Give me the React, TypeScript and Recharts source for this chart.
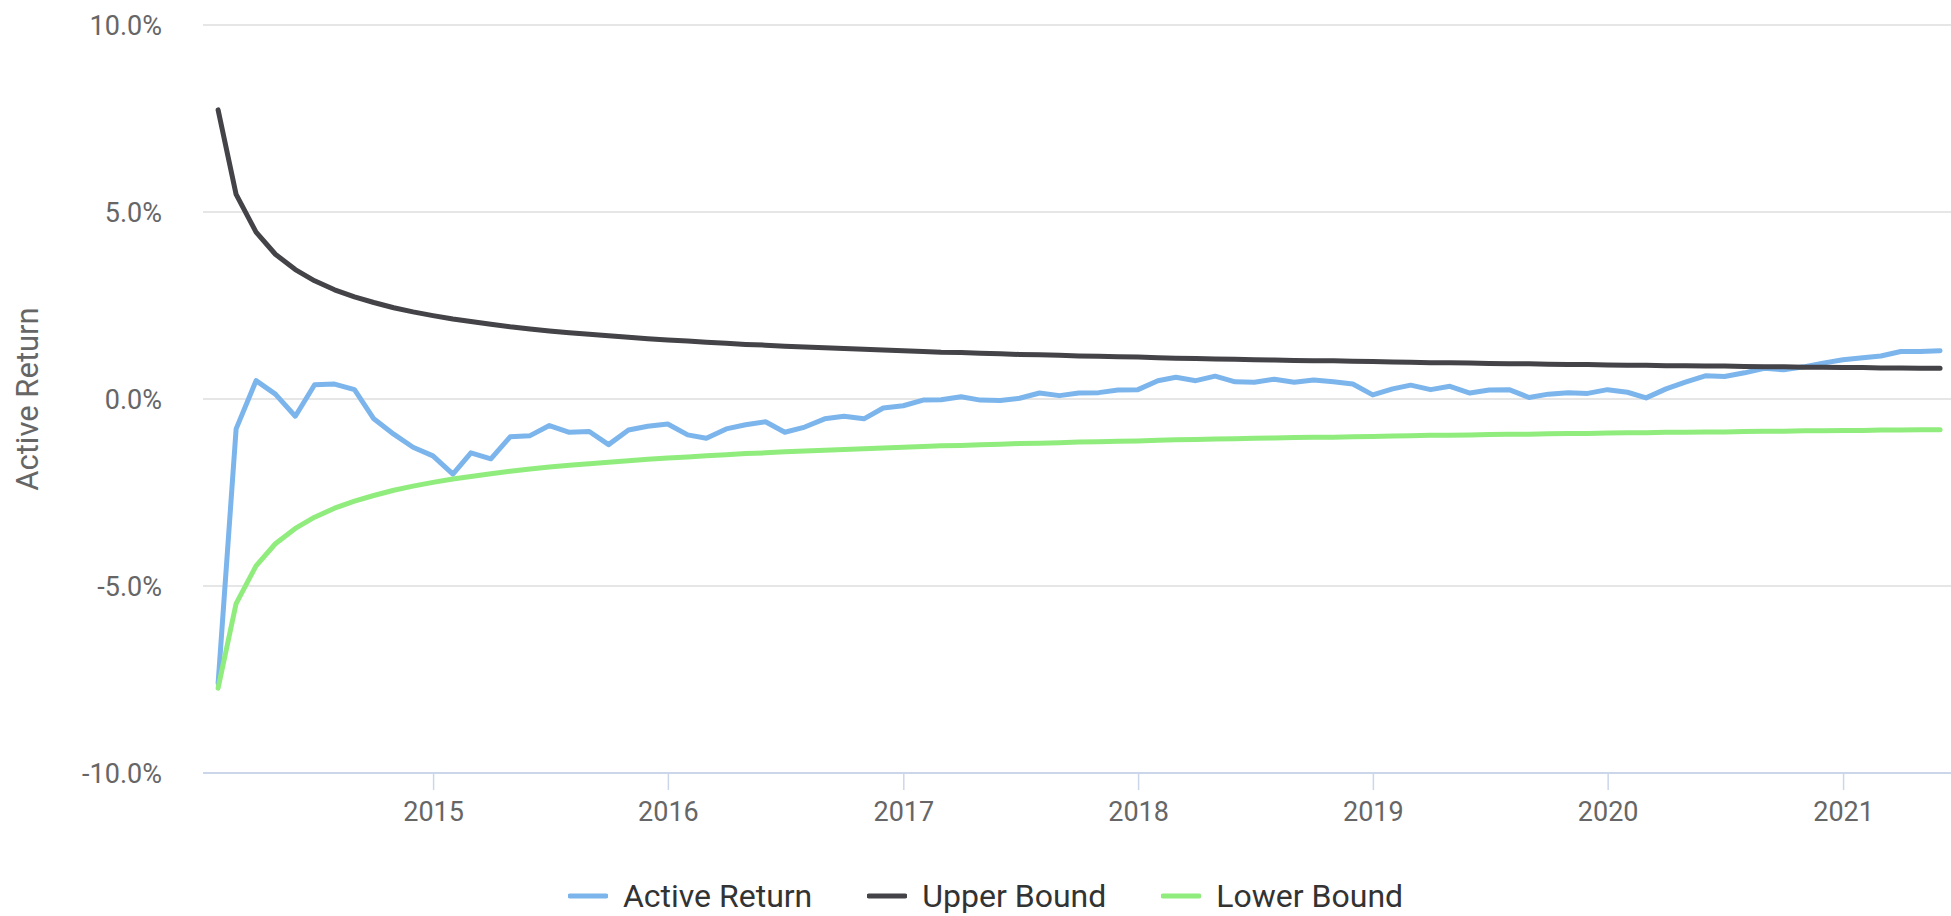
import React from "react";
import { LineChart, Line, XAxis, YAxis, CartesianGrid, Legend } from "recharts";

// Month-end observations, Jan 2014 .. May 2021
const startYear = 2014;
const monthCount = 89;

const activeReturn = [
  -7.6, -0.8, 0.49, 0.13, -0.46, 0.38, 0.4, 0.25, -0.53, -0.94,
  -1.29, -1.52, -2.01, -1.44, -1.6, -1.01, -0.98, -0.71, -0.89, -0.87,
  -1.22, -0.83, -0.73, -0.67, -0.96, -1.05, -0.8, -0.69, -0.61, -0.89,
  -0.75, -0.53, -0.46, -0.53, -0.24, -0.18, -0.03, -0.02, 0.06, -0.03,
  -0.04, 0.02, 0.16, 0.09, 0.16, 0.17, 0.24, 0.25, 0.49, 0.58,
  0.49, 0.61, 0.46, 0.45, 0.53, 0.45, 0.51, 0.46, 0.4, 0.11,
  0.27, 0.37, 0.25, 0.34, 0.16, 0.24, 0.25, 0.04, 0.13, 0.17,
  0.15, 0.25, 0.18, 0.03, 0.27, 0.45, 0.62, 0.6, 0.7, 0.82,
  0.78, 0.86, 0.96, 1.05, 1.1, 1.15, 1.27, 1.27, 1.29,
];

const upperBound = [
  7.73, 5.47, 4.46, 3.87, 3.46, 3.16, 2.92, 2.73, 2.58, 2.44,
  2.33, 2.23, 2.14, 2.07, 2.0, 1.93, 1.87, 1.82, 1.77, 1.73,
  1.69, 1.65, 1.61, 1.58, 1.55, 1.52, 1.49, 1.46, 1.44, 1.41,
  1.39, 1.37, 1.35, 1.33, 1.31, 1.29, 1.27, 1.25, 1.24, 1.22,
  1.21, 1.19, 1.18, 1.17, 1.15, 1.14, 1.13, 1.12, 1.1, 1.09,
  1.08, 1.07, 1.06, 1.05, 1.04, 1.03, 1.02, 1.02, 1.01, 1.0,
  0.99, 0.98, 0.97, 0.97, 0.96, 0.95, 0.94, 0.94, 0.93, 0.92,
  0.92, 0.91, 0.9, 0.9, 0.89, 0.89, 0.88, 0.88, 0.87, 0.86,
  0.86, 0.85, 0.85, 0.84, 0.84, 0.83, 0.83, 0.82, 0.82,
];

const lowerBound = [
  -7.73, -5.47, -4.46, -3.87, -3.46, -3.16, -2.92, -2.73, -2.58, -2.44,
  -2.33, -2.23, -2.14, -2.07, -2.0, -1.93, -1.87, -1.82, -1.77, -1.73,
  -1.69, -1.65, -1.61, -1.58, -1.55, -1.52, -1.49, -1.46, -1.44, -1.41,
  -1.39, -1.37, -1.35, -1.33, -1.31, -1.29, -1.27, -1.25, -1.24, -1.22,
  -1.21, -1.19, -1.18, -1.17, -1.15, -1.14, -1.13, -1.12, -1.1, -1.09,
  -1.08, -1.07, -1.06, -1.05, -1.04, -1.03, -1.02, -1.02, -1.01, -1.0,
  -0.99, -0.98, -0.97, -0.97, -0.96, -0.95, -0.94, -0.94, -0.93, -0.92,
  -0.92, -0.91, -0.9, -0.9, -0.89, -0.89, -0.88, -0.88, -0.87, -0.86,
  -0.86, -0.85, -0.85, -0.84, -0.84, -0.83, -0.83, -0.82, -0.82,
];

const seriesNames = ["Active Return", "Upper Bound", "Lower Bound"];
const yTicks = [-10, -5, 0, 5, 10];
const yearTicks = [2015, 2016, 2017, 2018, 2019, 2020, 2021];

const monthEnds: number[] = [];
for (let i = 0; i < monthCount; i++) monthEnds.push(Date.UTC(startYear, i + 1, 0));

const data = monthEnds.map((t, i) => ({
  t,
  active: activeReturn[i],
  upper: upperBound[i],
  lower: lowerBound[i],
}));

const xTicks = yearTicks.map((y) => Date.UTC(y, 0, 1));
const xDomain = [Date.UTC(2014, 0, 7, 12), Date.UTC(2021, 5, 17)];

const FONT = "Roboto, 'Noto Sans', sans-serif";

const COLORS = {
  active: "#7cb5ec",
  upper: "#434348",
  lower: "#90ed7d",
};

function LegendContent(props: any) {
  const payload = [...(props.payload || [])].sort(
    (a: any, b: any) => seriesNames.indexOf(a.value) - seriesNames.indexOf(b.value)
  );
  return (
    <div
      style={{
        display: "flex",
        justifyContent: "center",
        alignItems: "center",
        fontFamily: FONT,
        fontSize: 32,
        color: "#333333",
        gap: 55,
        paddingLeft: 20,
      }}
    >
      {payload.map((p: any) => (
        <div key={p.value} style={{ display: "flex", alignItems: "center" }}>
          <svg width={40} height={10} style={{ marginRight: 15 }}>
            <line x1={2} y1={5} x2={38} y2={5} stroke={p.color} strokeWidth={5} strokeLinecap="round" />
          </svg>
          <span>{p.value}</span>
        </div>
      ))}
    </div>
  );
}

function YLabel(props: any) {
  const vb = props.viewBox || { y: 25, height: 748 };
  const cy = vb.y + vb.height / 2;
  const cx = 27;
  return (
    <text
      x={cx}
      y={cy}
      transform={`rotate(-90, ${cx}, ${cy})`}
      textAnchor="middle"
      dominantBaseline="central"
      fill="#666666"
      fontSize={31}
      fontFamily={FONT}
    >
      Active Return
    </text>
  );
}

export default function App() {
  return (
    <div style={{ position: "absolute", left: 0, top: 0, width: 1951, height: 916, background: "#fff" }}>
      <LineChart
        width={1951}
        height={916}
        data={data}
        margin={{ top: 25, right: 0, left: 0, bottom: 83 }}
      >
        <CartesianGrid horizontal vertical={false} stroke="#e6e6e6" strokeWidth={2} />
        <XAxis
          dataKey="t"
          type="number"
          domain={xDomain}
          ticks={xTicks}
          allowDataOverflow
          height={60}
          tickFormatter={(v: number) => String(new Date(v).getUTCFullYear())}
          axisLine={{ stroke: "#ccd6eb", strokeWidth: 2 }}
          tickLine={{ stroke: "#ccd6eb", strokeWidth: 1.5 }}
          tickSize={17}
          tickMargin={12}
          tick={{ fill: "#666666", fontSize: 27, fontFamily: FONT }}
        />
        <YAxis
          type="number"
          domain={[-10, 10]}
          ticks={yTicks}
          width={203}
          axisLine={false}
          tickLine={false}
          tickSize={0}
          tickMargin={41}
          tickFormatter={(v: number) => `${v.toFixed(1)}%`}
          tick={{ fill: "#666666", fontSize: 27, fontFamily: FONT }}
          label={YLabel}
        />
        <Legend
          verticalAlign="middle"
          align="center"
          layout="horizontal"
          content={LegendContent}
          wrapperStyle={{ position: "absolute", top: 877, bottom: "auto", left: 0, width: 1951 }}
        />
        <Line
          type="linear"
          dataKey="active"
          name="Active Return"
          stroke={COLORS.active}
          strokeWidth={5}
          strokeLinejoin="round"
          strokeLinecap="round"
          dot={false}
          isAnimationActive={false}
        />
        <Line
          type="linear"
          dataKey="upper"
          name="Upper Bound"
          stroke={COLORS.upper}
          strokeWidth={5}
          strokeLinejoin="round"
          strokeLinecap="round"
          dot={false}
          isAnimationActive={false}
        />
        <Line
          type="linear"
          dataKey="lower"
          name="Lower Bound"
          stroke={COLORS.lower}
          strokeWidth={5}
          strokeLinejoin="round"
          strokeLinecap="round"
          dot={false}
          isAnimationActive={false}
        />
      </LineChart>
    </div>
  );
}
